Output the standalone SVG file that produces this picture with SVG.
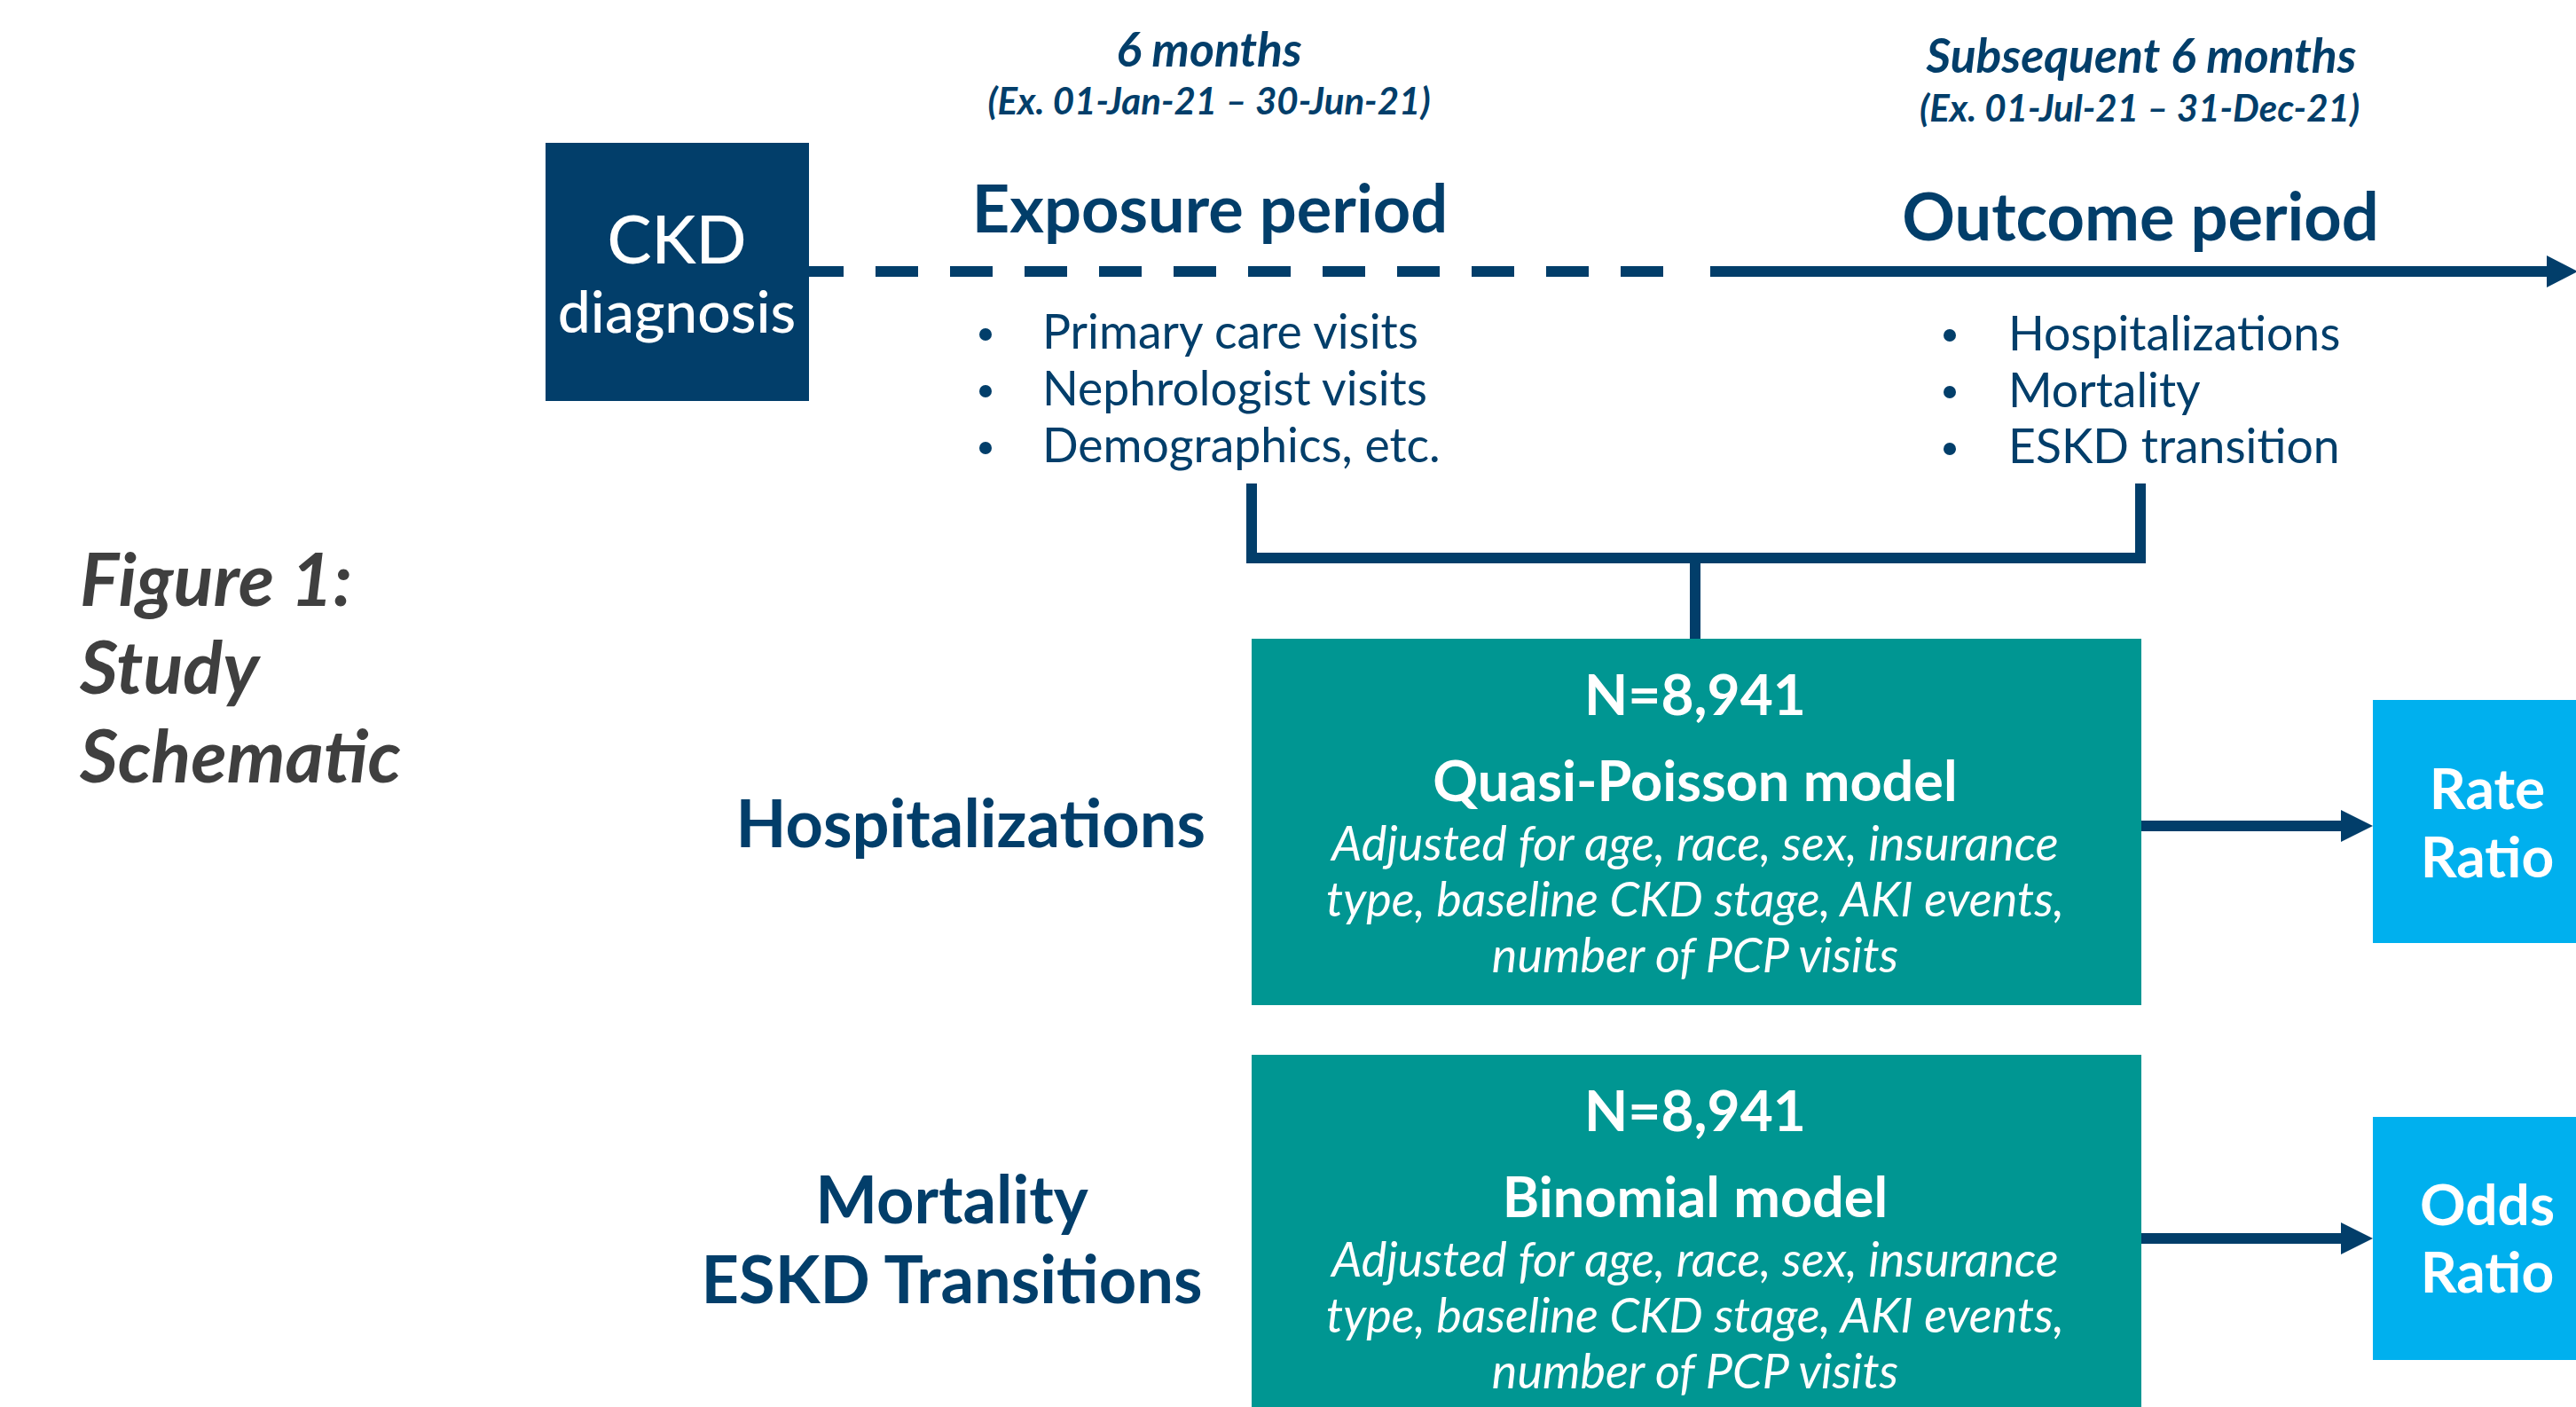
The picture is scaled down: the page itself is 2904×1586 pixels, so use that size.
<svg xmlns="http://www.w3.org/2000/svg" width="2904" height="1586" viewBox="0 0 2904 1586">
  <defs>
    <style>
      text { font-family: Lato, "Open Sans", "Liberation Sans", sans-serif; }
      .navy { fill: #023E6A; }
      .white { fill: #FFFFFF; }
      .gray { fill: #3F3F3F; }
      .mid { text-anchor: middle; }
      .end { text-anchor: end; }
      .head { font-size: 74px; font-weight: 700; }
      .sub { font-size: 53.5px; font-weight: 700; font-style: italic; }
      .date { font-size: 42px; font-weight: 700; font-style: italic; }
      .item { font-size: 53.5px; font-weight: 400; }
      .title { font-size: 83px; font-weight: 700; font-style: italic; }
      .outcome { font-size: 74px; font-weight: 700; }
      .n { font-size: 64px; font-weight: 700; }
      .model { font-size: 63px; font-weight: 700; }
      .adj { font-size: 54px; font-weight: 400; font-style: italic; }
      .ratio { font-size: 64px; font-weight: 700; }
      .conn { stroke: #023E6A; stroke-width: 12; fill: none; }
      .teal { fill: #009692; }
      .cyan { fill: #00B0EE; }
    </style>
  </defs>

  <!-- timeline, bracket and arrows -->
  <g id="connectors">
    <line class="conn" x1="903" y1="306" x2="1877" y2="306" stroke-dasharray="48 36"/>
    <line class="conn" x1="1928" y1="306" x2="2875" y2="306"/>
    <polygon fill="#023E6A" points="2871,288 2906,306 2871,324"/>
    <polyline class="conn" points="1411,545 1411,629 2413,629 2413,545"/>
    <line class="conn" x1="1911" y1="629" x2="1911" y2="720"/>
    <line class="conn" x1="2413" y1="931" x2="2642" y2="931"/>
    <polygon fill="#023E6A" points="2639,913 2675,931 2639,949"/>
    <line class="conn" x1="2413" y1="1396" x2="2642" y2="1396"/>
    <polygon fill="#023E6A" points="2639,1378 2675,1396 2639,1414"/>
  </g>

  <g id="ckd-diagnosis">
    <rect x="615" y="161" width="297" height="291" fill="#023E6A"/>
    <text class="white mid" x="763" y="297" font-size="75" font-weight="500">CKD</text>
    <text class="white mid" x="763" y="375" font-size="66" font-weight="500">diagnosis</text>
  </g>

  <g id="exposure-period">
    <text class="navy mid sub" x="1363" y="75">6 months</text>
    <text class="navy mid date" x="1363" y="129">(Ex. 01-Jan-21 – 30-Jun-21)</text>
    <text class="navy mid head" x="1364" y="262">Exposure period</text>
    <g class="navy item">
      <circle cx="1111" cy="377" r="7"/>
      <circle cx="1111" cy="441" r="7"/>
      <circle cx="1111" cy="505" r="7"/>
      <text x="1175" y="393">Primary care visits</text>
      <text x="1175" y="457">Nephrologist visits</text>
      <text x="1175" y="521">Demographics, etc.</text>
    </g>
  </g>

  <g id="outcome-period">
    <text class="navy mid sub" x="2414" y="82">Subsequent 6 months</text>
    <text class="navy mid date" x="2412" y="137">(Ex. 01-Jul-21 – 31-Dec-21)</text>
    <text class="navy mid head" x="2413" y="271">Outcome period</text>
    <g class="navy item">
      <circle cx="2198" cy="378" r="7"/>
      <circle cx="2198" cy="442" r="7"/>
      <circle cx="2198" cy="506" r="7"/>
      <text x="2264" y="395">Hospitalizations</text>
      <text x="2264" y="459">Mortality</text>
      <text x="2264" y="522">ESKD transition</text>
    </g>
  </g>

  <g id="figure-title">
    <text class="gray title" x="90" y="683">Figure 1:</text>
    <text class="gray title" x="90" y="782">Study</text>
    <text class="gray title" x="90" y="882">Schematic</text>
  </g>

  <g id="label-hospitalizations">
    <text class="navy end outcome" x="1359" y="955">Hospitalizations</text>
  </g>

  <g id="label-mortality-eskd">
    <text class="navy mid outcome" x="1073" y="1379">Mortality</text>
    <text class="navy mid outcome" x="1073" y="1469">ESKD Transitions</text>
  </g>

  <g id="quasi-poisson-model">
    <rect class="teal" x="1411" y="720" width="1003" height="413"/>
    <text class="white mid n" x="1911" y="806">N=8,941</text>
    <text class="white mid model" x="1911" y="903">Quasi-Poisson model</text>
    <text class="white mid adj" x="1911" y="970">Adjusted for age, race, sex, insurance</text>
    <text class="white mid adj" x="1911" y="1033">type, baseline CKD stage, AKI events,</text>
    <text class="white mid adj" x="1911" y="1096">number of PCP visits</text>
  </g>

  <g id="binomial-model">
    <rect class="teal" x="1411" y="1189" width="1003" height="413"/>
    <text class="white mid n" x="1911" y="1275">N=8,941</text>
    <text class="white mid model" x="1911" y="1372">Binomial model</text>
    <text class="white mid adj" x="1911" y="1439">Adjusted for age, race, sex, insurance</text>
    <text class="white mid adj" x="1911" y="1502">type, baseline CKD stage, AKI events,</text>
    <text class="white mid adj" x="1911" y="1565">number of PCP visits</text>
  </g>

  <g id="rate-ratio">
    <rect class="cyan" x="2675" y="789" width="260" height="274"/>
    <text class="white mid ratio" x="2804" y="912">Rate</text>
    <text class="white mid ratio" x="2804" y="989">Ratio</text>
  </g>

  <g id="odds-ratio">
    <rect class="cyan" x="2675" y="1259" width="260" height="274"/>
    <text class="white mid ratio" x="2804" y="1381">Odds</text>
    <text class="white mid ratio" x="2804" y="1457">Ratio</text>
  </g>
</svg>
